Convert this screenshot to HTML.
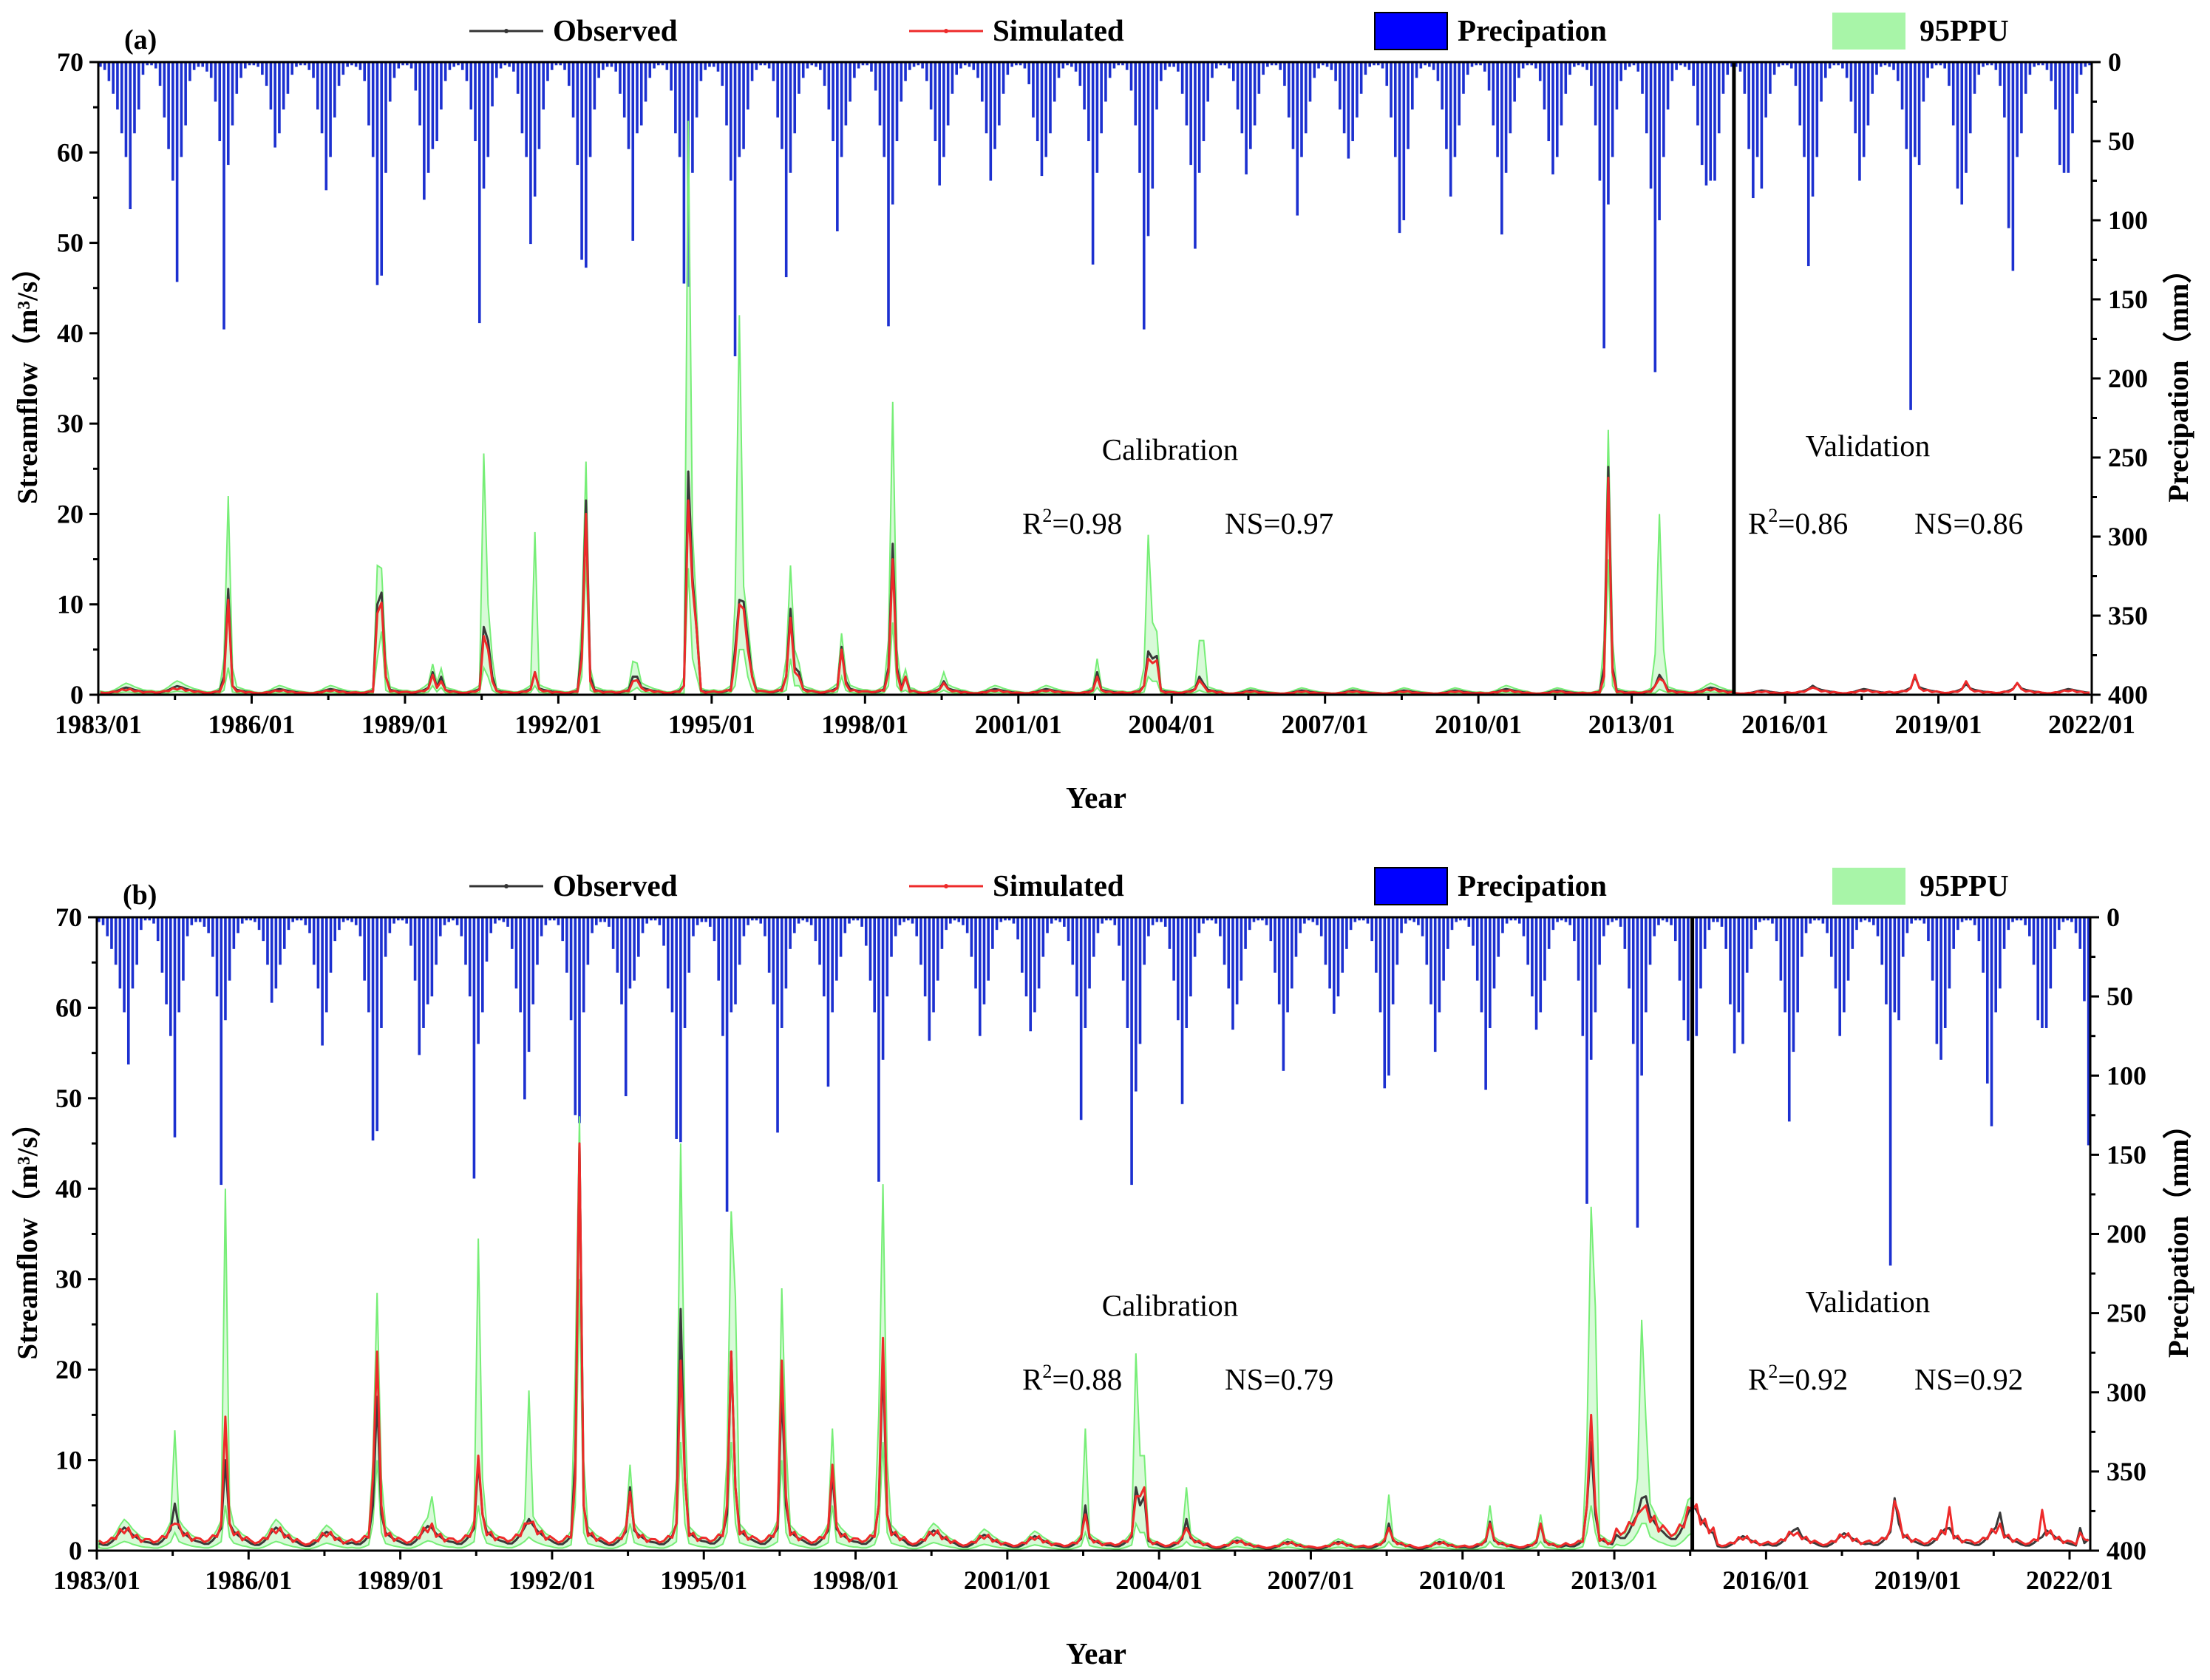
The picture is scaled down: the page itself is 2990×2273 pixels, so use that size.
<!DOCTYPE html>
<html><head><meta charset="utf-8"><style>
html,body{margin:0;padding:0;background:#fff;}
svg{display:block;font-family:"Liberation Serif",serif;}
</style></head><body>
<svg id="chart" width="2990" height="2273" viewBox="0 0 2990 2273" xmlns="http://www.w3.org/2000/svg"></svg>
<script>
// ---- data ----
const precipYears=[1983,1984,1985,1986,1987,1988,1989,1990,1991,1992,1993,1994,1995,1996,1997,1998,1999,2000,2001,2002,2003,2004,2005,2006,2007,2008,2009,2010,2011,2012,2013,2014,2015,2016,2017,2018,2019,2020,2021,2022];
const precipMonthly=[
[3,5,12,20,30,45,60,93,45,30,8,2],[2,4,15,35,55,75,139,60,40,12,5,3],[3,6,10,25,50,169,65,40,20,10,4,2],
[2,3,8,15,30,54,45,30,20,8,3,2],[2,5,10,30,45,81,60,35,15,8,3,2],[3,5,12,40,60,141,135,70,25,10,4,2],
[2,4,18,40,87,70,55,50,30,12,5,3],[2,5,12,30,50,165,80,60,28,10,4,2],[3,6,20,45,60,115,85,55,30,12,5,2],
[2,5,15,35,65,125,130,60,30,10,5,3],[3,6,20,35,55,113,45,40,25,10,4,2],[2,5,18,45,60,140,142,70,35,12,5,3],
[3,6,15,40,75,186,60,55,30,12,5,2],[2,4,12,35,55,136,70,45,20,10,4,2],[3,5,15,30,50,107,60,40,25,10,4,2],
[2,6,18,40,60,167,90,50,25,12,5,3],[2,4,12,30,50,78,60,40,20,8,4,2],[3,5,10,25,45,75,55,40,20,8,3,2],
[2,4,14,35,50,72,60,45,25,10,4,2],[3,6,15,30,50,128,70,45,25,10,4,2],[2,5,18,40,70,169,110,80,30,12,5,3],
[3,6,20,40,65,118,70,50,25,10,4,2],[2,4,12,30,45,71,55,40,20,8,3,2],[2,5,15,35,55,97,60,45,25,10,4,2],
[3,5,12,30,45,61,50,35,20,8,3,2],[2,4,15,35,60,108,100,55,30,10,4,2],[3,5,12,30,55,85,60,40,20,8,3,2],
[2,6,18,40,60,109,70,45,25,10,4,2],[2,4,12,30,50,71,60,40,20,8,3,2],[3,5,15,40,75,181,90,60,30,12,5,3],
[2,6,20,45,80,196,100,60,30,12,5,2],[3,5,15,40,65,78,75,75,45,20,8,3],[3,6,20,55,86,60,80,35,20,8,3,2],
[2,4,15,40,60,129,85,60,25,10,4,2],[2,4,10,25,45,75,60,40,20,8,3,2],[3,5,12,30,55,220,60,65,25,10,4,2],
[2,4,15,40,80,90,70,45,20,8,3,2],[2,5,15,35,105,132,60,45,20,8,3,2],[2,5,12,30,65,70,70,45,20,8,3,2],
[3,10,20,53,144,20,5]];
const monthShape=[0.5,0.4,0.4,0.6,0.9,1.3,1.6,1.4,1.1,0.9,0.7,0.6];
const simShape=[0.7,0.5,0.6,0.9,0.8,1.5,1.2,1.6,0.9,1.1,0.6,0.8];
const baseA=[0.5,0.6,0.5,0.4,0.4,0.5,0.6,0.5,0.5,0.5,0.6,0.5,0.7,0.7,0.6,0.7,0.5,0.4,0.4,0.4,0.5,0.5,0.3,0.3,0.3,0.3,0.3,0.4,0.3,0.4,0.5,0.5,0.3,0.5,0.4,0.6,0.5,0.5,0.4,0.4];
const baseB=[1.6,1.8,1.9,1.6,1.3,1.8,1.7,1.9,2.0,1.8,1.6,1.8,2.0,1.9,1.7,1.9,1.4,1.1,1.0,1.0,1.2,1.0,0.7,0.6,0.6,0.8,0.6,0.8,0.7,1.2,3.5,3.2,1.0,1.4,1.2,1.6,1.5,1.6,1.4,1.4];
// events: month, observed, simulated, lower95, upper95
const evMonthA=["1985-06","1985-07","1985-08","1988-06","1988-07","1988-08","1989-07","1989-09","1990-07","1990-08","1990-09","1991-07","1992-06","1992-07","1992-08","1993-06","1993-07","1994-06","1994-07","1994-08","1994-09","1995-06","1995-07","1995-08","1995-09","1995-10","1996-06","1996-07","1996-08","1996-09","1997-07","1997-08","1998-06","1998-07","1998-08","1998-10","1999-07","2002-07","2003-06","2003-07","2003-08","2003-09","2004-07","2004-08","2012-06","2012-07","2012-08","2013-06","2013-07","2013-08","2016-07","2018-07","2019-07","2020-07"];
const evObsA=[2,11.7,1,10,11.3,2,2.5,2,7.5,6,2,2.5,5,21.5,2,2,2,1,24.7,13,7,5,10.5,10.3,6,2,2,9.5,3,2.5,5.3,1.5,3,16.7,3,2,1.5,2.5,1,4.8,4,4.3,2,1.2,3,25.2,3,1,2.2,1.5,1,2,1.2,1.3];
const evSimA=[1.5,10.5,1,9,10.2,2,2.2,1.5,6.5,5,1.5,2.5,4,20,1.5,1.5,1.6,1,21.5,12,7,4,10,9.5,5,2,2,8.5,2.5,2,5,1.2,2.5,15,2.5,2,1.3,2,1,4,3.5,3.8,1.6,1,2,24,2.5,1,1.8,1.5,0.8,2.2,1.5,1.3];
const evLoA=[0.5,3,0.3,4,7,0.5,1,0.8,3,2,0.5,1,2,15,0.5,0.5,0.8,0.2,14,4,2,1,5,5,2,0.5,0.5,4,1,1,2,0.5,1,8,1,0.5,0.5,0.8,0.3,2,1.5,1.5,0.5,0.3,1,15,1,0.2,0.6,0.4,0,0,0,0];
const evHiA=[4,22,3,14.3,14,4,3.4,2.9,26.7,10,4,18,8,25.8,3,3.7,3.5,2,63.5,18,9,10,42,12,8,3,4,14.3,5,3.5,6.8,2.5,6,32.4,5,2.8,2.5,4,3,17.7,8,7,6,6,6,29.3,6,4.5,20,5,0,0,0,0];
const evMonthB=["1984-07","1985-07","1985-08","1988-06","1988-07","1988-08","1989-08","1990-07","1990-08","1991-07","1992-06","1992-07","1992-08","1993-07","1994-06","1994-07","1994-08","1995-06","1995-07","1995-08","1996-07","1996-08","1997-07","1998-06","1998-07","1998-08","2002-07","2003-07","2003-08","2003-09","2004-07","2008-07","2010-07","2011-07","2012-06","2012-07","2012-08","2013-06","2013-07","2013-08","2014-07","2016-08","2018-07","2018-08","2019-08","2020-08","2021-06","2022-03"];
const evObsB=[5.2,10,3,5,17,4,2.5,9.8,4,3.5,10,45,5,7,3,26.7,8,4,22,7,18,5,8.5,5,21,4,5,7,5,6,3.5,3,3.2,3,5,12,4,4,5.8,6,5,2.5,5.8,3,2.5,4.2,1.5,2.5];
const evSimB=[3,14.8,3,8,22,5,3,10.5,4,3,8,45,5,6.5,3,21,8,5,22,7,21,6,9.5,5,23.5,4,4,6,6,7,2.5,2.5,3,3,5,15,5,4,4.5,5,4.5,2,5.5,4,4.8,3,4.5,2];
const evLoB=[2,5,1.5,3,10,2,1,5,2,1.5,5,30,2,3,1,12,3,2,12,3,10,2,5,2,12,2,2,3,2,2,1,1,1,1,2,5,2,2,3,3,2,0,0,0,0,0,0,0];
const evHiB=[13.3,40,5,10,28.5,8,6,34.5,8,17.7,20,48,10,9.5,8,45,15,10,37.5,28,29,12,13.5,15,40.5,10,13.5,21.8,10.5,10.5,7,6.2,5,4,12,38,27,8,25.5,14.5,6,0,0,0,0,0,0,0];
const yTicks=[0,10,20,30,40,50,60,70];
const pTicks=[0,50,100,150,200,250,300,350,400];
const xTickLabels=["1983/01","1986/01","1989/01","1992/01","1995/01","1998/01","2001/01","2004/01","2007/01","2010/01","2013/01","2016/01","2019/01","2022/01"];

// ---- drawing ----
const NS="http://www.w3.org/2000/svg";
const svg=document.getElementById('chart');
function mk(tag,attrs,parent,text){const e=document.createElementNS(NS,tag);for(const k in attrs)e.setAttribute(k,attrs[k]);if(text!==undefined)e.textContent=text;(parent||svg).appendChild(e);return e;}
function series(evM,evV,base,shape,mult,n){
  const arr=[];for(let i=0;i<n;i++){const y=Math.floor(i/12);arr.push(base[y]*shape[i%12]*mult);}
  evM.forEach((m,k)=>{const p=m.split('-');const i=(+p[0]-1983)*12+(+p[1]-1);if(i<n)arr[i]=evV[k];});
  return arr;
}
function panel(cfg){
  const g=mk('g',{},svg);
  
  
  const {L,R,T,B,pxYr,n,split}=cfg;
  const X=i=>L+(i/12)*pxYr;
  const Y=v=>B-v/70*(B-T);
  const YP=p=>T+p/400*(B-T);
  const splitX=X(split);
  const bars=mk('g',{},g);
  
  
  precipMonthly.forEach((row,yi)=>row.forEach((p,mi)=>{
    const i=yi*12+mi; if(i>=n)return;
    const x=X(i+0.5);
    if(x>R-2)return;
    const r=mk('rect',{x:x-1.8,y:T,width:3.6,height:YP(p)-T,fill:'#1c30d0'},bars);
    
    
  }));
  const obs=series(cfg.evM,cfg.evO,cfg.base,monthShape,1,n);
  const sim=series(cfg.evM,cfg.evS,cfg.base,simShape,cfg.simMult,n);
  const lo=series(cfg.evM,cfg.evL,cfg.base,monthShape,0.4,n);
  const hi=series(cfg.evM,cfg.evH,cfg.base,monthShape,cfg.hiMult,n);
  let up='',dn='';const nc=Math.min(n,Math.round(split));
  for(let i=0;i<nc;i++){up+=(i?'L':'M')+X(i+0.5).toFixed(1)+','+Y(Math.max(hi[i],obs[i])).toFixed(1);}
  for(let i=nc-1;i>=0;i--){dn+='L'+X(i+0.5).toFixed(1)+','+Y(Math.min(lo[i],sim[i])).toFixed(1);}
  const band=mk('path',{d:up+dn+'Z',fill:'#a8f5a8','fill-opacity':0.45,stroke:'#77ee77','stroke-width':2},g);
  
  
  const line=(arr,col,w,nm)=>{let d='';arr.forEach((v,i)=>{const x=X(i+0.5);if(x>R)return;d+=(d?'L':'M')+x.toFixed(1)+','+Y(v).toFixed(1);});
    const p=mk('path',{d,fill:'none',stroke:col,'stroke-width':w,'stroke-linejoin':'round'},g);
    
    };
  line(obs,'#3a3a3a',3,'observed-line');
  line(sim,'#ee2a2a',3,'simulated-line');
  const sl=mk('line',{x1:splitX,x2:splitX,y1:T,y2:B,stroke:'#000','stroke-width':5},g);
  
  
  const ax=mk('g',{stroke:'#000','stroke-width':3,fill:'none'},g);
  
  
  mk('line',{x1:L,x2:R,y1:T,y2:T},ax);mk('line',{x1:L,x2:R,y1:B,y2:B},ax);
  mk('line',{x1:L,x2:L,y1:T,y2:B},ax);mk('line',{x1:R,x2:R,y1:T,y2:B},ax);
  yTicks.forEach(v=>{const y=Y(v);mk('line',{x1:L-12,x2:L,y1:y,y2:y},ax);
    if(v<70)mk('line',{x1:L-7,x2:L,y1:Y(v+5),y2:Y(v+5)},ax);
    const t=mk('text',{x:L-20,y:y+12,'text-anchor':'end','font-size':36,'font-weight':'bold',fill:'#000'},g,String(v));
    
    });
  pTicks.forEach(p=>{const y=YP(p);mk('line',{x1:R,x2:R+12,y1:y,y2:y},ax);
    if(p<400)mk('line',{x1:R,x2:R+7,y1:YP(p+25),y2:YP(p+25)},ax);
    const t=mk('text',{x:R+22,y:y+12,'font-size':36,'font-weight':'bold',fill:'#000'},g,String(p));
    
    });
  xTickLabels.forEach((lab,k)=>{const x=L+k*3*pxYr;if(x>R+2)return;
    mk('line',{x1:x,x2:x,y1:B,y2:B+12},ax);
    const xm=x+1.5*pxYr;if(xm<R)mk('line',{x1:xm,x2:xm,y1:B,y2:B+7},ax);
    const t=mk('text',{x:x,y:B+52,'text-anchor':'middle','font-size':36,'font-weight':'bold',fill:'#000'},g,lab);
    
    });
  const txt=(x,y,s,nm,o)=>{const t=mk('text',Object.assign({x,y,fill:'#000','font-size':41},o||{}),g);t.innerHTML=s;
    
    return t;};
  txt(L+35,T-18,cfg.label,'panel-label',{'font-weight':'bold','font-size':38});
  txt(1483,B+153,'Year','x-axis-title',{'font-weight':'bold','text-anchor':'middle','font-size':41});
  txt(0,0,'Streamflow（m³/s）','y-axis-title',{'font-weight':'bold','text-anchor':'middle','font-size':39,transform:`translate(50,${(T+B)/2}) rotate(-90)`});
  txt(0,0,'Precipation（mm）','y2-axis-title',{'font-weight':'bold','text-anchor':'middle','font-size':39,transform:`translate(2960,${(T+B)/2}) rotate(-90)`});
  txt(1583,cfg.calY,'Calibration','calibration-label',{'text-anchor':'middle'});
  txt(1383,cfg.calY+100,'R<tspan dy="-16" font-size="26">2</tspan><tspan dy="16">=</tspan>'+cfg.r2c,'calibration-r2');
  txt(1657,cfg.calY+100,'NS='+cfg.nsc,'calibration-ns');
  txt(2527,cfg.calY-5,'Validation','validation-label',{'text-anchor':'middle'});
  txt(2365,cfg.calY+100,'R<tspan dy="-16" font-size="26">2</tspan><tspan dy="16">=</tspan>'+cfg.r2v,'validation-r2');
  txt(2590,cfg.calY+100,'NS='+cfg.nsv,'validation-ns');
  const ly=cfg.T-42;
  const lg=mk('g',{},g);
  
  
  mk('line',{x1:635,x2:735,y1:ly,y2:ly,stroke:'#333','stroke-width':3},lg);
  mk('circle',{cx:685,cy:ly,r:3,fill:'#333'},lg);
  mk('text',{x:748,y:ly+13,'font-size':41,'font-weight':'bold'},lg,'Observed');
  mk('line',{x1:1230,x2:1330,y1:ly,y2:ly,stroke:'#ee2a2a','stroke-width':3},lg);
  mk('circle',{cx:1280,cy:ly,r:3,fill:'#ee2a2a'},lg);
  mk('text',{x:1343,y:ly+13,'font-size':41,'font-weight':'bold'},lg,'Simulated');
  mk('rect',{x:1860,y:ly-25,width:98,height:50,fill:'#0000ff',stroke:'#000','stroke-width':2},lg);
  mk('text',{x:1972,y:ly+13,'font-size':41,'font-weight':'bold'},lg,'Precipation');
  mk('rect',{x:2479,y:ly-25,width:99,height:50,fill:'#a8f5a8'},lg);
  mk('text',{x:2597,y:ly+13,'font-size':41,'font-weight':'bold'},lg,'95PPU');
}
panel({name:'panel-a',label:'(a)',L:133,R:2830,T:84,B:940,pxYr:(2830-133)/39,n:468,split:384,hiMult:1.6,
  evM:evMonthA,evO:evObsA,evS:evSimA,evL:evLoA,evH:evHiA,base:baseA,simMult:0.8,calY:622,r2c:'0.98',nsc:'0.97',r2v:'0.86',nsv:'0.86'});
panel({name:'panel-b',label:'(b)',L:131,R:2828,T:1241,B:2098,pxYr:(2800-131)/39,n:475,split:378.5,hiMult:1.35,
  evM:evMonthB,evO:evObsB,evS:evSimB,evL:evLoB,evH:evHiB,base:baseB,simMult:1.0,calY:1780,r2c:'0.88',nsc:'0.79',r2v:'0.92',nsv:'0.92'});
</script>
</body></html>
